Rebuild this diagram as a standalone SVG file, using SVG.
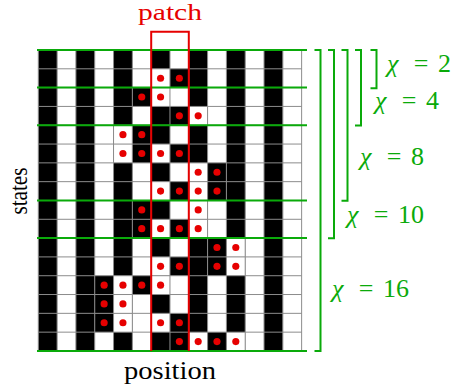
<svg xmlns="http://www.w3.org/2000/svg" width="463" height="392" viewBox="0 0 463 392">
<defs>
<style>
.blk{fill:#000}
.wht{fill:#fff}
.grid{fill:none;stroke:#8c8c8c;stroke-width:1;vector-effect:non-scaling-stroke}
.dot{fill:#e60000}
.sep{stroke:#0aaa0a;stroke-width:2;fill:none}
.br{stroke:#0aaa0a;stroke-width:2;fill:none}
.patch{stroke:#e60000;stroke-width:2;fill:none}
.lbl{font-family:"Liberation Serif",serif;font-size:26px;fill:#0aaa0a}
.ax{font-family:"Liberation Serif",serif;font-size:26px;fill:#000}
</style>
</defs>
<rect width="463" height="392" fill="#fff"/>
<g id="grid" transform="translate(38.3,50) scale(18.81)">
  <g id="base-columns" class="blk">
    <rect x="0" y="0" width="1" height="16"/>
    <rect x="2" y="0" width="1" height="16"/>
    <rect x="4" y="0" width="1" height="16"/>
    <rect x="6" y="0" width="1" height="16"/>
    <rect x="8" y="0" width="1" height="16"/>
    <rect x="10" y="0" width="1" height="16"/>
    <rect x="12" y="0" width="1" height="16"/>
  </g>
  <g id="flips-white" class="wht">
    <rect x="6" y="1" width="1" height="1"/>
    <rect x="6" y="2" width="1" height="1"/>
    <rect x="8" y="3" width="1" height="1"/>
    <rect x="4" y="4" width="1" height="1"/>
    <rect x="4" y="5" width="1" height="1"/>
    <rect x="6" y="5" width="1" height="1"/>
    <rect x="8" y="6" width="1" height="1"/>
    <rect x="6" y="7" width="1" height="1"/>
    <rect x="8" y="7" width="1" height="1"/>
    <rect x="8" y="8" width="1" height="1"/>
    <rect x="6" y="9" width="1" height="1"/>
    <rect x="8" y="9" width="1" height="1"/>
    <rect x="10" y="10" width="1" height="1"/>
    <rect x="6" y="11" width="1" height="1"/>
    <rect x="10" y="11" width="1" height="1"/>
    <rect x="4" y="12" width="1" height="1"/>
    <rect x="6" y="12" width="1" height="1"/>
    <rect x="4" y="13" width="1" height="1"/>
    <rect x="4" y="14" width="1" height="1"/>
    <rect x="6" y="14" width="1" height="1"/>
    <rect x="8" y="15" width="1" height="1"/>
    <rect x="10" y="15" width="1" height="1"/>
  </g>
  <g id="flips-black" class="blk">
    <rect x="7" y="1" width="1" height="1"/>
    <rect x="5" y="2" width="1" height="1"/>
    <rect x="7" y="3" width="1" height="1"/>
    <rect x="5" y="4" width="1" height="1"/>
    <rect x="5" y="5" width="1" height="1"/>
    <rect x="7" y="5" width="1" height="1"/>
    <rect x="9" y="6" width="1" height="1"/>
    <rect x="7" y="7" width="1" height="1"/>
    <rect x="9" y="7" width="1" height="1"/>
    <rect x="5" y="8" width="1" height="1"/>
    <rect x="5" y="9" width="1" height="1"/>
    <rect x="7" y="9" width="1" height="1"/>
    <rect x="9" y="10" width="1" height="1"/>
    <rect x="7" y="11" width="1" height="1"/>
    <rect x="9" y="11" width="1" height="1"/>
    <rect x="3" y="12" width="1" height="1"/>
    <rect x="5" y="12" width="1" height="1"/>
    <rect x="3" y="13" width="1" height="1"/>
    <rect x="3" y="14" width="1" height="1"/>
    <rect x="7" y="14" width="1" height="1"/>
    <rect x="7" y="15" width="1" height="1"/>
    <rect x="9" y="15" width="1" height="1"/>
  </g>
  <path class="grid" d="M0 0V16M1 0V16M2 0V16M3 0V16M4 0V16M5 0V16M6 0V16M7 0V16M8 0V16M9 0V16M10 0V16M11 0V16M12 0V16M13 0V16M14 0V16M0 0H14M0 1H14M0 2H14M0 3H14M0 4H14M0 5H14M0 6H14M0 7H14M0 8H14M0 9H14M0 10H14M0 11H14M0 12H14M0 13H14M0 14H14M0 15H14M0 16H14"/>
  <g id="dots" class="dot">
    <circle cx="6.5" cy="1.5" r="0.19"/><circle cx="7.5" cy="1.5" r="0.19"/>
    <circle cx="5.5" cy="2.5" r="0.19"/><circle cx="6.5" cy="2.5" r="0.19"/>
    <circle cx="7.5" cy="3.5" r="0.19"/><circle cx="8.5" cy="3.5" r="0.19"/>
    <circle cx="4.5" cy="4.5" r="0.19"/><circle cx="5.5" cy="4.5" r="0.19"/>
    <circle cx="4.5" cy="5.5" r="0.19"/><circle cx="5.5" cy="5.5" r="0.19"/><circle cx="6.5" cy="5.5" r="0.19"/><circle cx="7.5" cy="5.5" r="0.19"/>
    <circle cx="8.5" cy="6.5" r="0.19"/><circle cx="9.5" cy="6.5" r="0.19"/>
    <circle cx="6.5" cy="7.5" r="0.19"/><circle cx="7.5" cy="7.5" r="0.19"/><circle cx="8.5" cy="7.5" r="0.19"/><circle cx="9.5" cy="7.5" r="0.19"/>
    <circle cx="5.5" cy="8.5" r="0.19"/><circle cx="8.5" cy="8.5" r="0.19"/>
    <circle cx="5.5" cy="9.5" r="0.19"/><circle cx="6.5" cy="9.5" r="0.19"/><circle cx="7.5" cy="9.5" r="0.19"/><circle cx="8.5" cy="9.5" r="0.19"/>
    <circle cx="9.5" cy="10.5" r="0.19"/><circle cx="10.5" cy="10.5" r="0.19"/>
    <circle cx="6.5" cy="11.5" r="0.19"/><circle cx="7.5" cy="11.5" r="0.19"/><circle cx="9.5" cy="11.5" r="0.19"/><circle cx="10.5" cy="11.5" r="0.19"/>
    <circle cx="3.5" cy="12.5" r="0.19"/><circle cx="4.5" cy="12.5" r="0.19"/><circle cx="5.5" cy="12.5" r="0.19"/><circle cx="6.5" cy="12.5" r="0.19"/>
    <circle cx="3.5" cy="13.5" r="0.19"/><circle cx="4.5" cy="13.5" r="0.19"/>
    <circle cx="3.5" cy="14.5" r="0.19"/><circle cx="4.5" cy="14.5" r="0.19"/><circle cx="6.5" cy="14.5" r="0.19"/><circle cx="7.5" cy="14.5" r="0.19"/>
    <circle cx="7.5" cy="15.5" r="0.19"/><circle cx="8.5" cy="15.5" r="0.19"/><circle cx="9.5" cy="15.5" r="0.19"/><circle cx="10.5" cy="15.5" r="0.19"/>
  </g>
</g>
<g id="separators" class="sep">
  <path d="M37 50H307M37 87.6H307M37 125.2H307M37 200.5H307M37 238.1H307M37 351H307"/>
</g>
<g id="patch">
  <path class="patch" d="M151.2 351V31.7H188.8V351"/>
  <text x="170" y="19.5" text-anchor="middle" font-family="Liberation Serif, serif" font-size="24" fill="#e60000" textLength="64" lengthAdjust="spacingAndGlyphs">patch</text>
</g>
<g id="brackets" class="br">
  <path d="M370.5 50H376.5V88.3H370.5"/>
  <path d="M355 50H361V125.4H355"/>
  <path d="M341.5 50H347.5V200.7H341.5"/>
  <path d="M328 50H334V238.3H328"/>
  <path d="M314.5 50H320.5V351H314.5"/>
</g>
<g id="labels" class="lbl">
  <text x="387" y="72"><tspan font-style="italic">χ</tspan></text><text x="421" y="72" text-anchor="middle">=</text><text x="438" y="72">2</text>
  <text x="375" y="109"><tspan font-style="italic">χ</tspan></text><text x="409" y="109" text-anchor="middle">=</text><text x="426" y="109">4</text>
  <text x="360" y="165"><tspan font-style="italic">χ</tspan></text><text x="394" y="165" text-anchor="middle">=</text><text x="411" y="165">8</text>
  <text x="347" y="223"><tspan font-style="italic">χ</tspan></text><text x="381" y="223" text-anchor="middle">=</text><text x="398" y="223">10</text>
  <text x="332" y="297"><tspan font-style="italic">χ</tspan></text><text x="366" y="297" text-anchor="middle">=</text><text x="383" y="297">16</text>
</g>
<g id="axes" class="ax">
  <text x="170" y="378.5" text-anchor="middle" textLength="92" lengthAdjust="spacingAndGlyphs">position</text>
  <text transform="translate(27,191) rotate(-90)" x="0" y="0" text-anchor="middle" font-size="25" textLength="47" lengthAdjust="spacingAndGlyphs">states</text>
</g>
</svg>
